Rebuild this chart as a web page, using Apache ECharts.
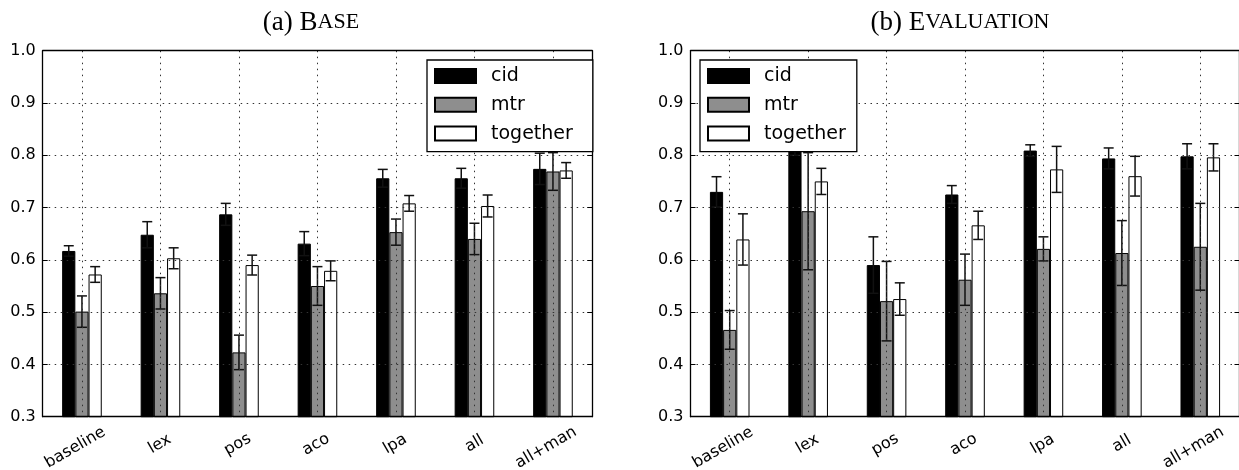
<!DOCTYPE html>
<html><head><meta charset="utf-8">
<script src="https://cdn.jsdelivr.net/npm/echarts@6/dist/echarts.min.js"></script>
<style>html,body{margin:0;padding:0;background:#fff}#c{width:1239px;height:470px}</style>
</head><body><div id="c"></div><script>
// ---- data ----
const categories = ['baseline', 'lex', 'pos', 'aco', 'lpa', 'all', 'all+man'];
const seriesNames = ['cid', 'mtr', 'together'];
const yTicks = [0.3, 0.4, 0.5, 0.6, 0.7, 0.8, 0.9, 1.0];

const baseCid    = [0.617, 0.648, 0.687, 0.631, 0.756, 0.756, 0.774];
const baseCidErr = [0.010, 0.025, 0.021, 0.023, 0.017, 0.019, 0.030];
const baseMtr    = [0.501, 0.536, 0.423, 0.550, 0.653, 0.640, 0.769];
const baseMtrErr = [0.030, 0.030, 0.033, 0.037, 0.025, 0.030, 0.036];
const baseTog    = [0.572, 0.603, 0.590, 0.579, 0.708, 0.703, 0.771];
const baseTogErr = [0.015, 0.020, 0.019, 0.019, 0.015, 0.021, 0.015];

const evalCid    = [0.730, 0.830, 0.590, 0.725, 0.809, 0.794, 0.798];
const evalCidErr = [0.029, 0.030, 0.054, 0.017, 0.011, 0.020, 0.024];
const evalMtr    = [0.466, 0.693, 0.521, 0.562, 0.621, 0.613, 0.625];
const evalMtrErr = [0.037, 0.112, 0.076, 0.049, 0.023, 0.062, 0.083];
const evalTog    = [0.639, 0.750, 0.525, 0.666, 0.773, 0.760, 0.796];
const evalTogErr = [0.049, 0.025, 0.031, 0.027, 0.044, 0.038, 0.026];

// ---- styling ----
const SANS = 'DejaVu Sans';
const SERIF = 'Liberation Serif';
const LABEL_SIZE = 16;
const BAR_W = 13.2;
const fills = ['#000000', '#8e8e8e', '#ffffff'];
const GRID_COLOR = '#333';

const chart = echarts.init(document.getElementById('c'), null, {renderer: 'canvas'});

// per-label padding so the rotated labels' bounding boxes share a common top
const ctx = document.createElement('canvas').getContext('2d');
ctx.font = LABEL_SIZE + 'px "DejaVu Sans"';
const widths = categories.map(c => ctx.measureText(c).width);
const wMin = Math.min.apply(null, widths);
const catData = categories.map((c, i) => {
  const D = (widths[i] - wMin) / 4 * 1.3;
  return {value: c, textStyle: {align: 'center', verticalAlign: 'middle',
    padding: [1.732 * D, D, 0, 0]}};
});

const grids = [
  {left: 42.7, top: 50.7, width: 549.5, height: 366, outerBoundsMode: 'none', containLabel: false},
  {left: 690.5, top: 50.7, width: 549, height: 366, outerBoundsMode: 'none', containLabel: false}
];

const xAxes = [], yAxes = [];
grids.forEach((g, gi) => {
  xAxes.push({
    gridIndex: gi, type: 'category', data: catData, position: 'bottom', z: 5,
    axisLine: {onZero: false, lineStyle: {color: '#000', width: 1.3}},
    axisTick: {inside: true, length: 5, alignWithLabel: true, lineStyle: {color: '#000'}},
    axisLabel: {interval: 0, rotate: 30, align: 'center', verticalAlign: 'middle', margin: 27,
      fontFamily: SANS, fontSize: LABEL_SIZE, color: '#000'},
    splitLine: {show: true, alignWithLabel: true, interval: 0,
      lineStyle: {color: GRID_COLOR, width: 1, type: [1.5, 4.5]}}
  });
  xAxes.push({
    gridIndex: gi, type: 'category', data: categories, position: 'top', z: 5,
    axisLine: {onZero: false, lineStyle: {color: '#000', width: 1.3}},
    axisTick: {inside: true, length: 5, alignWithLabel: true, lineStyle: {color: '#000'}},
    axisLabel: {show: false}, splitLine: {show: false}
  });
  yAxes.push({
    gridIndex: gi, type: 'value', min: 0.3, max: 1.0, interval: 0.1, position: 'left', z: 5,
    axisLine: {show: true, lineStyle: {color: '#000', width: 1.3}},
    axisTick: {show: true, inside: true, length: 5, lineStyle: {color: '#000'}},
    axisLabel: {margin: 7, fontFamily: SANS, fontSize: LABEL_SIZE, color: '#000',
      formatter: v => v.toFixed(1)},
    splitLine: {show: true, lineStyle: {color: GRID_COLOR, width: 1, type: [1.5, 4.5]}}
  });
  yAxes.push({
    gridIndex: gi, type: 'value', min: 0.3, max: 1.0, interval: 0.1, position: 'right', z: 5,
    axisLine: {show: true, lineStyle: {color: '#000', width: 1.3}},
    axisTick: {show: true, inside: true, length: 5, lineStyle: {color: '#000'}},
    axisLabel: {show: false}, splitLine: {show: false}
  });
});

function barSeries(name, vals, k, gi) {
  return {
    type: 'bar', name: name, xAxisIndex: gi * 2, yAxisIndex: gi * 2,
    barWidth: BAR_W, barGap: '0%', z: 2,
    itemStyle: {color: fills[k], borderColor: '#000', borderWidth: 1},
    emphasis: {disabled: true},
    data: vals
  };
}
function errSeries(name, vals, errs, k, gi) {
  return {
    type: 'custom', name: name + ' err', xAxisIndex: gi * 2, yAxisIndex: gi * 2, z: 3,
    silent: true,
    data: vals.map((v, i) => [i, v, errs[i]]),
    renderItem(params, api) {
      const i = api.value(0), v = api.value(1), e = api.value(2);
      const top = api.coord([i, v + e]);
      const bot = api.coord([i, v - e]);
      const x = top[0] + (k - 1) * BAR_W;
      const cap = 5;
      const style = {stroke: '#111', lineWidth: 1.5};
      return {type: 'group', children: [
        {type: 'line', shape: {x1: x, y1: top[1], x2: x, y2: bot[1]}, style: style},
        {type: 'line', shape: {x1: x - cap, y1: top[1], x2: x + cap, y2: top[1]}, style: style},
        {type: 'line', shape: {x1: x - cap, y1: bot[1], x2: x + cap, y2: bot[1]}, style: style}
      ]};
    }
  };
}

const panels = [
  {vals: [baseCid, baseMtr, baseTog], errs: [baseCidErr, baseMtrErr, baseTogErr]},
  {vals: [evalCid, evalMtr, evalTog], errs: [evalCidErr, evalMtrErr, evalTogErr]}
];
const series = [];
panels.forEach((p, gi) => {
  seriesNames.forEach((n, k) => series.push(barSeries(n, p.vals[k], k, gi)));
  seriesNames.forEach((n, k) => series.push(errSeries(n, p.vals[k], p.errs[k], k, gi)));
});

const legendCommon = {
  orient: 'vertical', icon: 'rect', itemWidth: 41, itemHeight: 14, itemGap: 8.8,
  backgroundColor: '#fff', borderColor: '#000', borderWidth: 1.3, borderRadius: 0,
  z: 10, selectedMode: false, data: seriesNames,
  textStyle: {fontFamily: SANS, fontSize: 19, color: '#000', lineHeight: 20, padding: [0, 0, 0, 10]}
};

const titleCommon = {
  textStyle: {fontFamily: SERIF, fontSize: 27, fontWeight: 'normal', color: '#000',
    rich: {s: {fontFamily: SERIF, fontSize: 22, color: '#000'}}},
  textAlign: 'center', top: 4
};

chart.setOption({
  animation: false,
  backgroundColor: '#fff',
  title: [
    Object.assign({text: '(a) B{s|ASE}', left: 306}, titleCommon),
    Object.assign({text: '(b) E{s|VALUATION}', left: 955}, titleCommon)
  ],
  legend: [
    Object.assign({left: 427, top: 60, padding: [6, 20, 8, 7]}, legendCommon),
    Object.assign({left: 700, top: 60, padding: [6, 11, 8, 7]}, legendCommon)
  ],
  grid: grids,
  xAxis: xAxes,
  yAxis: yAxes,
  series: series
});
</script></body></html>
